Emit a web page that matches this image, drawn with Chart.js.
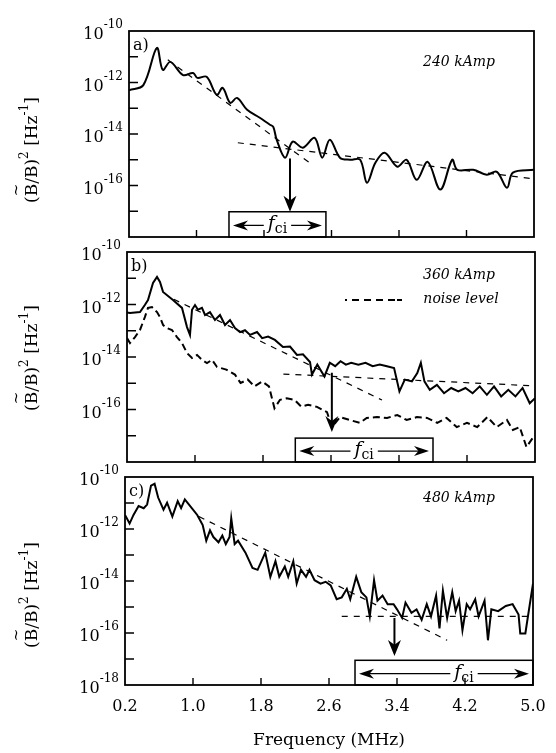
<!DOCTYPE html>
<html>
<head>
<meta charset="utf-8">
<script src="https://cdn.jsdelivr.net/npm/chart.js@4.4.1/dist/chart.umd.min.js"></script>
<style>
  html, body { margin: 0; padding: 0; background: #fff; }
  #wrap { position: relative; width: 556px; height: 753px; }
  canvas { position: absolute; left: 0; top: 0; }
</style>
</head>
<body>
<div id="wrap">
  <canvas id="pa" width="556" height="753"></canvas>
  <canvas id="pb" width="556" height="753"></canvas>
  <canvas id="pc" width="556" height="753"></canvas>
</div>
<script>
// axis ticks (frequency in MHz, power as log10 exponent)
const xTicks = [0.2, 1.0, 1.8, 2.6, 3.4, 4.2, 5.0];
const xTickLabels = ['0.2', '1.0', '1.8', '2.6', '3.4', '4.2', '5.0'];
const yDecades = [-11, -12, -13, -14, -15, -16, -17];
const yLabelsA = [-10, -12, -14, -16];
const yLabelsB = [-10, -12, -14, -16];
const yLabelsC = [-10, -12, -14, -16, -18];

// panel a) 240 kAmp
const aFreq = [0.2, 0.37, 0.53, 0.6, 0.69, 0.84, 0.96, 1.01, 1.12, 1.24, 1.31, 1.40, 1.48, 1.60, 1.75, 1.87, 1.91, 1.95, 2.05, 2.14, 2.26, 2.40, 2.49, 2.58, 2.70, 2.82, 2.94, 3.02, 3.12, 3.23, 3.38, 3.49, 3.61, 3.74, 3.89, 4.03, 4.09, 4.28, 4.44, 4.56, 4.68, 4.75, 5.0];
const aLog = [-12.3, -12.1, -10.66, -11.51, -11.2, -11.71, -11.63, -11.82, -11.78, -12.48, -12.21, -12.79, -12.6, -13.06, -13.37, -13.64, -13.72, -14.22, -14.92, -14.3, -14.53, -14.15, -14.92, -14.22, -14.92, -15.0, -15.0, -15.89, -15.12, -14.73, -15.27, -15.0, -15.78, -15.08, -16.16, -15.0, -15.39, -15.39, -15.58, -15.47, -16.09, -15.5, -15.39];
const aFit1F = [0.66, 2.37], aFit1L = [-11.12, -15.19];
const aFit2F = [1.49, 5.0], aFit2L = [-14.34, -15.74];

// panel b) 360 kAmp, signal and noise level
const bFreq = [0.2, 0.235, 0.353, 0.41, 0.447, 0.506, 0.553, 0.588, 0.624, 0.741, 0.847, 0.906, 0.941, 0.965, 1.0, 1.035, 1.082, 1.118, 1.176, 1.235, 1.294, 1.353, 1.412, 1.47, 1.53, 1.588, 1.647, 1.73, 1.79, 1.86, 1.94, 2.035, 2.118, 2.2, 2.27, 2.353, 2.376, 2.439, 2.523, 2.586, 2.649, 2.712, 2.775, 2.838, 2.922, 3.006, 3.09, 3.174, 3.258, 3.342, 3.405, 3.468, 3.552, 3.615, 3.657, 3.699, 3.762, 3.846, 3.93, 4.014, 4.098, 4.182, 4.266, 4.35, 4.434, 4.518, 4.602, 4.686, 4.77, 4.854, 4.938, 5.0];
const bLog = [-12.3, -12.32, -12.29, -12.02, -11.83, -11.18, -10.95, -11.14, -11.52, -11.83, -12.13, -12.86, -13.16, -12.2, -12.02, -12.2, -12.13, -12.4, -12.29, -12.59, -12.4, -12.78, -12.59, -12.9, -13.05, -12.98, -13.16, -13.05, -13.28, -13.22, -13.35, -13.62, -13.6, -13.92, -13.9, -14.19, -14.67, -14.29, -14.74, -14.22, -14.35, -14.16, -14.29, -14.22, -14.29, -14.22, -14.35, -14.29, -14.35, -14.42, -15.31, -14.86, -14.93, -14.61, -14.22, -14.93, -15.25, -15.06, -15.38, -15.18, -15.31, -15.18, -15.38, -15.12, -15.44, -15.12, -15.5, -15.25, -15.5, -15.18, -15.76, -15.57];
const bNoiseFreq = [0.2, 0.235, 0.294, 0.353, 0.41, 0.447, 0.494, 0.553, 0.588, 0.624, 0.671, 0.729, 0.788, 0.847, 0.906, 0.965, 1.024, 1.082, 1.141, 1.2, 1.259, 1.368, 1.47, 1.536, 1.62, 1.70, 1.79, 1.87, 1.935, 2.0, 2.08, 2.17, 2.25, 2.33, 2.435, 2.553, 2.612, 2.706, 2.82, 2.94, 3.02, 3.14, 3.26, 3.38, 3.49, 3.61, 3.73, 3.85, 3.96, 4.08, 4.2, 4.32, 4.44, 4.55, 4.67, 4.74, 4.82, 4.9, 4.98];
const bNoiseLog = [-13.28, -13.47, -13.24, -12.97, -12.48, -12.13, -12.1, -12.29, -12.48, -12.78, -12.9, -12.97, -13.24, -13.47, -13.85, -14.04, -13.92, -14.11, -14.23, -14.11, -14.38, -14.48, -14.67, -14.99, -14.86, -15.12, -14.93, -15.12, -15.95, -15.63, -15.57, -15.63, -15.89, -15.82, -15.9, -16.1, -16.67, -16.29, -16.4, -16.51, -16.32, -16.29, -16.32, -16.21, -16.4, -16.29, -16.32, -16.51, -16.32, -16.67, -16.51, -16.67, -16.29, -16.67, -16.4, -16.78, -16.67, -17.43, -17.05];
const bFit1F = [0.75, 3.2], bFit1L = [-11.8, -15.64];
const bFit2F = [2.04, 5.0], bFit2L = [-14.65, -15.1];

// panel c) 480 kAmp
const cFreq = [0.2, 0.254, 0.3, 0.36, 0.42, 0.46, 0.506, 0.548, 0.59, 0.653, 0.695, 0.757, 0.82, 0.86, 0.904, 0.967, 1.05, 1.114, 1.156, 1.2, 1.24, 1.3, 1.345, 1.386, 1.43, 1.45, 1.49, 1.53, 1.617, 1.70, 1.76, 1.85, 1.91, 1.97, 2.015, 2.08, 2.12, 2.18, 2.22, 2.27, 2.33, 2.37, 2.43, 2.5, 2.56, 2.62, 2.69, 2.75, 2.81, 2.85, 2.92, 2.98, 3.04, 3.08, 3.13, 3.17, 3.23, 3.29, 3.36, 3.4, 3.46, 3.5, 3.57, 3.63, 3.69, 3.75, 3.8, 3.86, 3.9, 3.94, 3.99, 4.05, 4.09, 4.13, 4.17, 4.22, 4.26, 4.32, 4.36, 4.43, 4.47, 4.51, 4.59, 4.68, 4.76, 4.83, 4.85, 4.91, 4.95, 5.0];
const cLog = [-11.46, -11.79, -11.46, -11.12, -11.2, -11.06, -10.33, -10.26, -10.79, -11.26, -10.99, -11.52, -10.93, -11.2, -10.86, -11.12, -11.46, -11.85, -12.45, -12.05, -12.31, -12.51, -12.25, -12.58, -12.31, -11.59, -12.58, -12.45, -12.91, -13.5, -13.57, -12.91, -13.84, -13.24, -13.84, -13.44, -13.84, -13.24, -14.1, -13.57, -13.84, -13.57, -13.97, -14.1, -14.03, -14.17, -14.7, -14.63, -14.3, -14.7, -13.84, -14.43, -14.63, -15.36, -13.97, -14.76, -14.56, -14.89, -14.89, -15.09, -15.42, -14.83, -15.22, -15.09, -15.49, -14.89, -15.36, -14.56, -15.82, -14.37, -15.42, -14.43, -15.16, -14.76, -15.89, -14.89, -15.09, -14.7, -15.36, -14.76, -16.28, -15.09, -15.16, -14.96, -14.89, -15.29, -16.02, -16.02, -15.16, -14.1];
const cFit1F = [1.07, 3.99], cFit1L = [-11.52, -16.28];
const cFit2F = [2.75, 5.0], cFit2L = [-15.36, -15.36];

const SERIF = '"DejaVu Serif", "Liberation Serif", serif';
const W = 556, H = 753;

const pts = (fs, ls) => fs.map((f, i) => ({ x: f, y: ls[i] }));
const solid = (fs, ls, tension) => ({ data: pts(fs, ls), borderColor: '#000', borderWidth: 2, pointRadius: 0, tension: tension, fill: false });
const fit = (fs, ls) => ({ data: pts(fs, ls), borderColor: '#000', borderWidth: 1.2, borderDash: [6, 6], pointRadius: 0, fill: false });
const noise = (fs, ls) => ({ data: pts(fs, ls), borderColor: '#000', borderWidth: 2, borderDash: [7, 4], pointRadius: 0, fill: false });

function drawRuns(ctx, runs, x, y) {
  let cx = x;
  for (const r of runs) {
    ctx.font = r.font;
    ctx.fillText(r.t, cx, y + (r.dy || 0));
    cx += ctx.measureText(r.t).width;
  }
  return cx - x;
}
function runsWidth(ctx, runs) {
  let w = 0;
  for (const r of runs) { ctx.font = r.font; w += ctx.measureText(r.t).width; }
  return w;
}

// arrowhead pointing in direction (dx, dy) with tip at (x, y)
function head(ctx, x, y, dx, dy, len, half) {
  const nx = -dy, ny = dx;
  ctx.beginPath();
  ctx.moveTo(x, y);
  ctx.lineTo(x - dx * len + nx * half, y - dy * len + ny * half);
  ctx.lineTo(x - dx * len * 0.7, y - dy * len * 0.7);
  ctx.lineTo(x - dx * len - nx * half, y - dy * len - ny * half);
  ctx.closePath();
  ctx.fill();
}

const decoPlugin = {
  id: 'deco',
  afterDraw(chart) {
    const o = chart.options.plugins.deco;
    const ctx = chart.ctx;
    const a = chart.chartArea;
    const xs = chart.scales.x, ys = chart.scales.y;
    ctx.save();
    ctx.fillStyle = '#000';
    ctx.strokeStyle = '#000';

    // f_ci box and arrow
    const bx1 = xs.getPixelForValue(o.box[0]), bx2 = xs.getPixelForValue(o.box[1]);
    const by = ys.getPixelForValue(o.box[2]);
    ctx.fillStyle = '#fff';
    ctx.fillRect(bx1, by, bx2 - bx1, a.bottom - by);
    ctx.fillStyle = '#000';
    ctx.lineWidth = 1.5;
    ctx.strokeRect(bx1, by, bx2 - bx1, a.bottom - by);
    const midY = (by + a.bottom) / 2 + 1;
    const fr = [{ t: 'f', font: 'italic 19px ' + SERIF }, { t: 'ci', font: '14px ' + SERIF, dy: 4 }];
    const fw = runsWidth(ctx, fr);
    const tx = (bx1 + bx2) / 2 - fw / 2 + (o.textShift || 0);
    ctx.textBaseline = 'alphabetic';
    drawRuns(ctx, fr, tx, midY + 4);
    ctx.lineWidth = 1.3;
    ctx.beginPath();
    ctx.moveTo(bx1 + 8, midY); ctx.lineTo(tx - 4, midY);
    ctx.moveTo(tx + fw + 4, midY); ctx.lineTo(bx2 - 8, midY);
    ctx.stroke();
    head(ctx, bx1 + 4, midY, -1, 0, 15, 5);
    head(ctx, bx2 - 4, midY, 1, 0, 15, 5);

    const ax = xs.getPixelForValue(o.arrow[0]);
    const ay1 = ys.getPixelForValue(o.arrow[1]), ay2 = ys.getPixelForValue(o.arrow[2]);
    ctx.lineWidth = 2;
    ctx.beginPath(); ctx.moveTo(ax, ay1); ctx.lineTo(ax, ay2 - 10); ctx.stroke();
    head(ctx, ax, ay2, 0, 1, 16, 6.5);

    // frame
    ctx.lineWidth = 1.8;
    ctx.strokeRect(a.left, a.top, a.right - a.left, a.bottom - a.top);
    ctx.lineWidth = 1.4;
    ctx.beginPath();
    for (const d of yDecades) {
      const y = ys.getPixelForValue(d);
      ctx.moveTo(a.left, y); ctx.lineTo(a.left + 9, y);
    }
    for (const t of xTicks.slice(1, -1)) {
      const x = xs.getPixelForValue(t);
      ctx.moveTo(x, a.bottom); ctx.lineTo(x, a.bottom - 7);
    }
    ctx.stroke();

    // y tick labels 10^n
    for (const d of o.yLabels) {
      const y = ys.getPixelForValue(d);
      const runs = [{ t: '10', font: '16px ' + SERIF }, { t: String(d), font: '12px ' + SERIF, dy: -11 }];
      const w = runsWidth(ctx, runs);
      drawRuns(ctx, runs, a.left - 6 - w, y + 8);
    }

    // y axis title
    ctx.save();
    ctx.translate(31, o.titleY);
    ctx.rotate(-Math.PI / 2);
    const big = '17px ' + SERIF, sm = '12px ' + SERIF;
    const tr = [{ t: '(', font: big }, { t: 'B', font: big }, { t: '/B)', font: big }, { t: '2', font: sm, dy: -9 },
                { t: ' [Hz', font: big }, { t: '-1', font: sm, dy: -9 }, { t: ']', font: big }];
    const tw = runsWidth(ctx, tr);
    drawRuns(ctx, tr, -tw / 2, 6);
    ctx.font = big;
    const pw = ctx.measureText('(').width, bw = ctx.measureText('B').width;
    ctx.font = '15px ' + SERIF;
    ctx.textAlign = 'center';
    ctx.fillText('~', -tw / 2 + pw + bw / 2, -10);
    ctx.restore();

    // panel letter and current
    ctx.textAlign = 'left';
    ctx.font = '16px ' + SERIF;
    ctx.fillText(o.letter, a.left + 4, a.top + 19);
    ctx.font = 'italic 14px ' + SERIF;
    ctx.textAlign = 'center';
    ctx.fillText(o.current, 459, a.top + o.currentDy);
    if (o.legend) {
      ctx.fillText('noise level', 461, a.top + 51);
      ctx.lineWidth = 2;
      ctx.setLineDash([2, 5, 7, 5, 7, 5, 7, 5, 7]);
      ctx.beginPath(); ctx.moveTo(345, a.top + 48); ctx.lineTo(402, a.top + 48); ctx.stroke();
      ctx.setLineDash([]);
    }

    // x tick labels for bottom panel
    if (o.xLabels) {
      ctx.font = '16px ' + SERIF;
      ctx.textAlign = 'center';
      xTicks.forEach((t, i) => ctx.fillText(xTickLabels[i], xs.getPixelForValue(t), a.bottom + 26));
      ctx.font = '17px ' + SERIF;
      ctx.fillText('Frequency (MHz)', (a.left + a.right) / 2, a.bottom + 60);
    }
    ctx.restore();
  }
};

function panel(id, area, datasets, deco) {
  return new Chart(document.getElementById(id), {
    type: 'line',
    data: { datasets: datasets },
    options: {
      responsive: false,
      animation: false,
      events: [],
      layout: { padding: { left: area[0], top: area[1], right: W - area[2], bottom: H - area[3] } },
      plugins: { legend: { display: false }, tooltip: { enabled: false }, deco: deco },
      scales: {
        x: { type: 'linear', min: 0.2, max: 5.0, display: false },
        y: { type: 'linear', min: -18, max: -10, display: false }
      }
    },
    plugins: [decoPlugin]
  });
}

panel('pa', [129, 31, 534, 237],
  [solid(aFreq, aLog, 0.35), fit(aFit1F, aFit1L), fit(aFit2F, aFit2L)],
  { letter: 'a)', current: '240 kAmp', currentDy: 35, yLabels: yLabelsA, titleY: 150,
    box: [1.385, 2.534, -17.02], arrow: [2.108, -14.95, -17.02] });

panel('pb', [127, 252, 535, 462],
  [solid(bFreq, bLog, 0), noise(bNoiseFreq, bNoiseLog), fit(bFit1F, bFit1L), fit(bFit2F, bFit2L)],
  { letter: 'b)', current: '360 kAmp', currentDy: 27, legend: true, yLabels: yLabelsB, titleY: 358,
    box: [2.18, 3.80, -17.09], arrow: [2.61, -14.6, -16.86] });

panel('pc', [125, 477, 533, 685],
  [solid(cFreq, cLog, 0), fit(cFit1F, cFit1L), fit(cFit2F, cFit2L)],
  { letter: 'c)', current: '480 kAmp', currentDy: 25, yLabels: yLabelsC, titleY: 595, xLabels: true,
    box: [2.906, 5.0, -17.05], arrow: [3.37, -15.42, -16.88], textShift: 20 });
</script>
</body>
</html>
